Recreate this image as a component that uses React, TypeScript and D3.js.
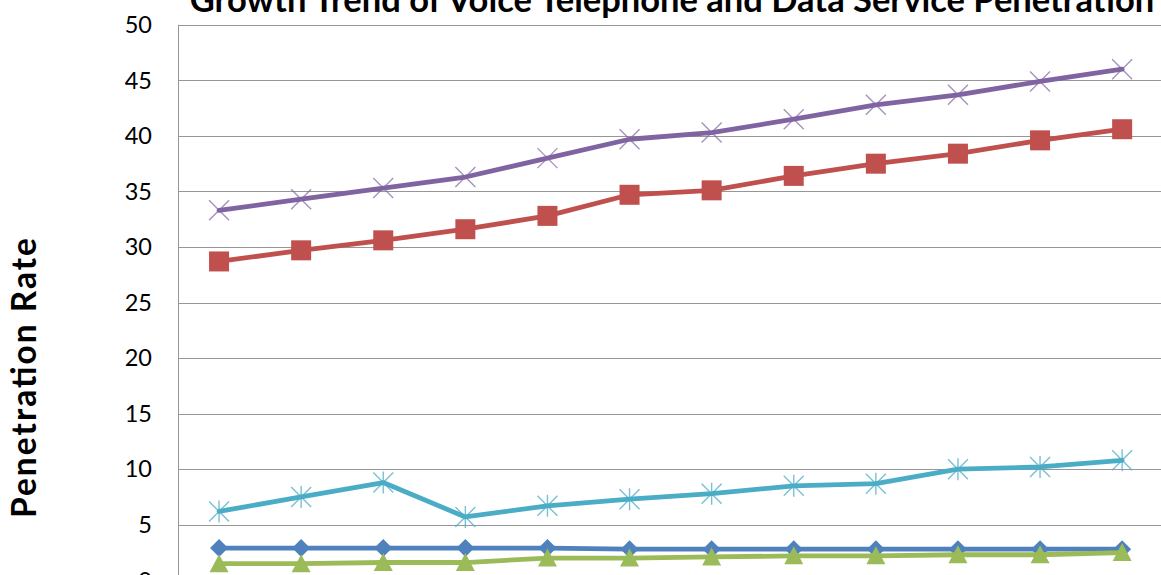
import React from "react";
import * as d3 from "d3";

const W = 1161;
const H = 575;

const categories = ["1", "2", "3", "4", "5", "6", "7", "8", "9", "10", "11", "12"];
const yTicks = [0, 5, 10, 15, 20, 25, 30, 35, 40, 45, 50];

const seriesBlue = [2.9, 2.9, 2.9, 2.9, 2.9, 2.8, 2.8, 2.8, 2.8, 2.8, 2.8, 2.8];
const seriesRed = [28.7, 29.7, 30.6, 31.6, 32.8, 34.7, 35.1, 36.4, 37.5, 38.4, 39.6, 40.6];
const seriesGreen = [1.5, 1.5, 1.6, 1.6, 2.0, 2.0, 2.1, 2.2, 2.2, 2.3, 2.3, 2.5];
const seriesPurple = [33.3, 34.3, 35.3, 36.3, 38.0, 39.7, 40.3, 41.5, 42.8, 43.7, 44.9, 46.0];
const seriesCyan = [6.2, 7.5, 8.8, 5.7, 6.7, 7.3, 7.8, 8.5, 8.7, 10.0, 10.2, 10.8];

const title = "Growth Trend of Voice Telephone and Data Service Penetration";
const yTitle = "Penetration Rate";

const FONT = "Lato, 'Open Sans', sans-serif";

type Marker = "diamond" | "square" | "triangle" | "x" | "star";

const series: { values: number[]; color: string; marker: Marker; markerColor: string }[] = [
  { values: seriesCyan, color: "#4BACC6", marker: "star", markerColor: "#4BACC6" },
  { values: seriesPurple, color: "#8064A2", marker: "x", markerColor: "#8064A2" },
  { values: seriesRed, color: "#C0504D", marker: "square", markerColor: "#C0504D" },
  { values: seriesBlue, color: "#4F81BD", marker: "diamond", markerColor: "#4F81BD" },
  { values: seriesGreen, color: "#9BBB59", marker: "triangle", markerColor: "#9BBB59" },
];

function MarkerShape({ type, x, y, color }: { type: Marker; x: number; y: number; color: string }) {
  switch (type) {
    case "diamond": {
      const r = 9;
      return <path d={`M${x},${y - r}L${x + r},${y}L${x},${y + r}L${x - r},${y}Z`} fill={color} />;
    }
    case "square": {
      const s = 20;
      return <rect x={x - s / 2} y={y - s / 2} width={s} height={s} fill={color} />;
    }
    case "triangle": {
      const w = 19;
      const h = 17;
      return <path d={`M${x},${y - h / 2 - 1}L${x + w / 2},${y + h / 2}L${x - w / 2},${y + h / 2}Z`} fill={color} />;
    }
    case "x": {
      const r = 10;
      return (
        <path
          d={`M${x - r},${y - r}L${x + r},${y + r}M${x - r},${y + r}L${x + r},${y - r}`}
          stroke={color}
          strokeWidth={1.4}
          opacity={0.7}
          fill="none"
        />
      );
    }
    case "star": {
      const r = 10;
      return (
        <path
          d={`M${x - r},${y - r}L${x + r},${y + r}M${x - r},${y + r}L${x + r},${y - r}M${x},${y - r - 1}L${x},${y + r + 1}`}
          stroke={color}
          strokeWidth={1.4}
          opacity={0.75}
          fill="none"
        />
      );
    }
  }
  return null;
}

export default function App() {
  const plotLeft = 178;
  const bandW = 82.1;
  const x = d3
    .scaleBand<string>()
    .domain(categories)
    .range([plotLeft, plotLeft + bandW * categories.length])
    .paddingInner(0)
    .paddingOuter(0);
  const y = d3.scaleLinear().domain([0, 50]).range([580.3, 24.8]);
  const cx = (c: string) => (x(c) as number) + x.bandwidth() / 2;

  const line = d3
    .line<number>()
    .x((_, i) => cx(categories[i]))
    .y((d) => y(d));

  return (
    <svg
      width={W}
      height={H}
      style={{ position: "absolute", left: 0, top: 0, background: "#fff" }}
      fontFamily={FONT}
    >
      <rect x={0} y={0} width={W} height={H} fill="#fff" />
      {yTicks.map((t) => (
        <line
          key={t}
          x1={plotLeft}
          x2={plotLeft + bandW * categories.length}
          y1={Math.round(y(t)) + 0.5}
          y2={Math.round(y(t)) + 0.5}
          stroke="#969696"
          strokeWidth={1}
        />
      ))}
      <line
        x1={plotLeft + 0.5}
        x2={plotLeft + 0.5}
        y1={y(50)}
        y2={y(0)}
        stroke="#969696"
        strokeWidth={1}
      />
      {yTicks.map((t) => (
        <text
          key={t}
          x={152}
          y={y(t)}
          dy="0.35em"
          textAnchor="end"
          fontSize={23.5}
          fill="#000"
        >
          {t}
        </text>
      ))}
      <text
        transform={`translate(36,378) rotate(-90)`}
        textAnchor="middle"
        fontSize={33.5}
        fontWeight="bold"
        fill="#000"
        textLength={280}
        lengthAdjust="spacing"
      >
        {yTitle}
      </text>
      <text x={672} y={11.5} textAnchor="middle" fontSize={34.5} fontWeight="bold" fill="#000">
        {title}
      </text>
      {series.map((s, si) => (
        <g key={si}>
          <path
            d={line(s.values) || ""}
            fill="none"
            stroke={s.color}
            strokeWidth={4.8}
            strokeLinejoin="round"
            strokeLinecap="round"
          />
          {s.values.map((v, i) => (
            <MarkerShape key={i} type={s.marker} x={cx(categories[i])} y={y(v)} color={s.markerColor} />
          ))}
        </g>
      ))}
    </svg>
  );
}
